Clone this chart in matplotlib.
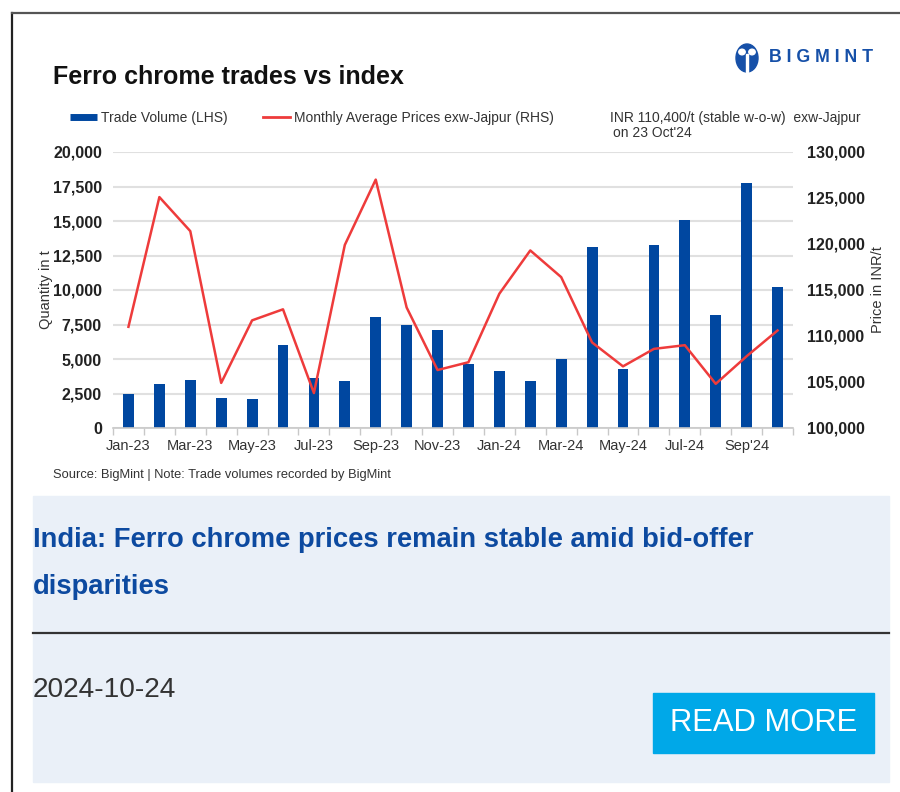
import matplotlib
matplotlib.use('Agg')
import matplotlib.pyplot as plt
from matplotlib.lines import Line2D
from matplotlib.patches import Rectangle, Ellipse, Circle
from matplotlib.ticker import FuncFormatter, MultipleLocator

plt.rcParams['font.family'] = ['Liberation Sans', 'DejaVu Sans']

# data
months = ['Jan-23', 'Feb-23', 'Mar-23', 'Apr-23', 'May-23', 'Jun-23', 'Jul-23', 'Aug-23',
          'Sep-23', 'Oct-23', 'Nov-23', 'Dec-23', 'Jan-24', 'Feb-24', 'Mar-24', 'Apr-24',
          'May-24', 'Jun-24', 'Jul-24', 'Aug-24', "Sep'24", 'Oct-24']
volume = [2450, 3200, 3500, 2200, 2130, 6000, 3630, 3390, 8010, 7430, 7090,
          4650, 4140, 3390, 4990, 13150, 4310, 13240, 15060, 8180, 17770, 10190]
price = [111000, 125100, 121400, 104900, 111700, 112900, 103800, 119900, 127000, 113100, 106300,
         107150, 114600, 119300, 116400, 109300, 106700, 108600, 109000, 104800, 107800, 110600]

BLUE = '#0047a0'
RED = '#ee3b3b'
W, H = 900, 792

def fx(x):
    return x / W

def fy(y):
    return 1 - y / H

fig = plt.figure(figsize=(9, 7.92), dpi=100)

# outer frame
fig.add_artist(Line2D([fx(12), fx(12)], [0, fy(13)], color='#222', lw=1.6))
fig.add_artist(Line2D([fx(12), 1], [fy(13), fy(13)], color='#555', lw=1.6))

# chart
ax = fig.add_axes([fx(113), fy(428), 680 / W, 276 / H])
ax.set_facecolor('none')
x = list(range(len(months)))
ax.bar(x, volume, width=0.35, color=BLUE, zorder=2)
ax.set_xlim(-0.5, len(months) - 0.5)
ax.set_ylim(0, 20000)
ax.yaxis.set_major_locator(MultipleLocator(2500))
ax.yaxis.set_major_formatter(FuncFormatter(lambda v, p: f'{v:,.0f}'))
ax.grid(axis='y', color='#e0e0e0', lw=1.5, zorder=0)
ax.set_axisbelow(True)
for s in ['top', 'left', 'right']:
    ax.spines[s].set_visible(False)
ax.spines['bottom'].set_color('#c8c8c8')
ax.spines['bottom'].set_linewidth(1.2)
ax.set_xticks(x)
ax.set_xticklabels([m if i % 2 == 0 else '' for i, m in enumerate(months)], fontsize=10.5, color='#333')
ax.set_xticks([i - 0.5 for i in range(len(months) + 1)], minor=True)
ax.tick_params(axis='x', which='major', length=0, pad=8)
ax.tick_params(axis='x', which='minor', length=5, color='#c8c8c8', width=1)
ax.tick_params(axis='y', length=0, pad=8, labelsize=11.5, labelcolor='#222')
for t in ax.get_yticklabels():
    t.set_fontweight('bold')
ax.set_ylabel('Quantity in t', fontsize=10.5, color='#333')
ax.yaxis.set_label_coords(-0.088, 0.5)

ax2 = ax.twinx()
ax2.plot(x, price, color=RED, lw=1.8, zorder=3)
ax2.set_ylim(100000, 130000)
ax2.yaxis.set_major_locator(MultipleLocator(5000))
ax2.yaxis.set_major_formatter(FuncFormatter(lambda v, p: f'{v:,.0f}'))
for s in ['top', 'left', 'right', 'bottom']:
    ax2.spines[s].set_visible(False)
ax2.tick_params(axis='y', length=0, pad=10, labelsize=11.5, labelcolor='#222')
for t in ax2.get_yticklabels():
    t.set_fontweight('bold')
ax2.set_ylabel('Price in INR/t', fontsize=10.5, color='#333')
ax2.yaxis.set_label_coords(1.114, 0.5)

# title and legend
fig.text(fx(53), fy(77), 'Ferro chrome trades vs index', fontsize=18, fontweight='bold',
         color='#111', va='center')
handles = [Line2D([], [], color=BLUE, lw=5, solid_capstyle='butt'),
           Line2D([], [], color=RED, lw=2)]
fig.legend(handles, ['Trade Volume (LHS)', 'Monthly Average Prices exw-Jajpur (RHS)'],
           loc='center left', bbox_to_anchor=(fx(70), fy(118)), ncol=2, frameon=False,
           fontsize=10, handlelength=1.95, handletextpad=0.25, columnspacing=2.6,
           borderpad=0, borderaxespad=0, labelcolor='#333')
fig.text(fx(610), fy(118), 'INR 110,400/t (stable w-o-w)  exw-Jajpur', fontsize=10,
         color='#333', va='center')
fig.text(fx(613), fy(133), "on 23 Oct'24", fontsize=10, color='#333', va='center')

# logo
fig.add_artist(Ellipse((fx(747), fy(58)), 22 / W, 28 / H, color='#1650a8'))
fig.add_artist(Circle((fx(742), fy(52)), 3.2 / W, color='white'))
fig.add_artist(Circle((fx(752), fy(52)), 3.2 / W, color='white'))
fig.add_artist(Rectangle((fx(746), fy(72)), 2 / W, 18 / H, color='white'))
fig.text(fx(769), fy(58), 'B I G M I N T', fontsize=12.8, fontweight='bold',
         color='#1650a8', va='center')

fig.text(fx(53), fy(475), 'Source: BigMint | Note: Trade volumes recorded by BigMint',
         fontsize=9.3, color='#333', va='center')

# article card
fig.add_artist(Rectangle((fx(33), fy(782)), (889 - 33) / W, (782 - 496) / H,
                         transform=fig.transFigure, color='#eaf0f8', zorder=0))
fig.text(fx(33), fy(540), 'India: Ferro chrome prices remain stable amid bid-offer',
         fontsize=19.7, fontweight='bold', color='#0d4aa0', va='center')
fig.text(fx(33), fy(587), 'disparities', fontsize=19.7, fontweight='bold', color='#0d4aa0', va='center')
fig.add_artist(Line2D([fx(33), fx(889)], [fy(633), fy(633)], color='#333', lw=1.6))
fig.text(fx(33), fy(690), '2024-10-24', fontsize=20.2, color='#333', va='center')
fig.add_artist(Rectangle((fx(653), fy(753)), 221 / W, 60 / H, transform=fig.transFigure,
                         color='#00a8e8', zorder=1))
fig.text(fx(763.5), fy(723), 'READ MORE', fontsize=22.3, color='white', ha='center', va='center')

fig.savefig('out.png', dpi=100)
